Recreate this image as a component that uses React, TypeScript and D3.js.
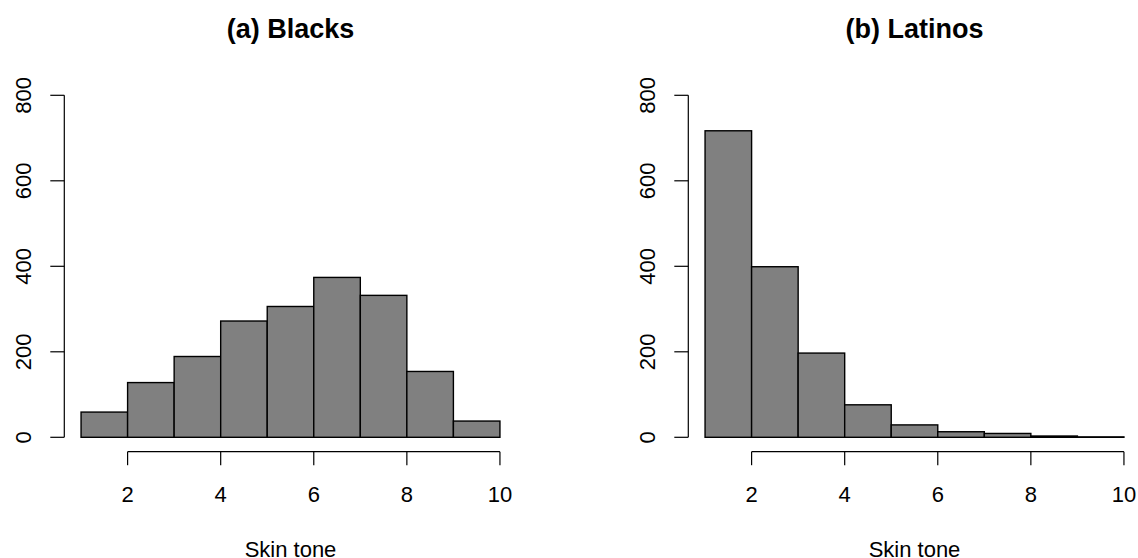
import React from "react";
import * as d3 from "d3";

const breaks = [1, 2, 3, 4, 5, 6, 7, 8, 9, 10];
const blacksCounts = [59, 128, 189, 272, 306, 374, 332, 154, 38];
const latinosCounts = [717, 399, 197, 76, 29, 13, 9, 3, 1];
const xTicks = [2, 4, 6, 8, 10];
const yTicks = [0, 200, 400, 600, 800];
const titles = ["(a) Blacks", "(b) Latinos"];
const xLabel = "Skin tone";

const W = 1138;
const H = 558;
const FONT = "'Liberation Sans', Arial, Helvetica, sans-serif";

function Panel({ counts, title, offset }: { counts: number[]; title: string; offset: number }) {
  const x = d3.scaleLinear().domain([0.64, 10.36]).range([64.3 + offset, 516.7 + offset]);
  const y = d3.scaleLinear().domain([0, 800]).range([437.3, 95.3]);
  const axisY = 451.7;
  const axisX = x(0.64);
  const cx = (x(0.64) + x(10.36)) / 2;
  return (
    <g>
      <text x={cx} y={37.5} textAnchor="middle" fontFamily={FONT} fontWeight="bold" fontSize={27}>
        {title}
      </text>
      {counts.map((c, i) => (
        <rect
          key={i}
          x={x(breaks[i])}
          y={y(c)}
          width={x(breaks[i + 1]) - x(breaks[i])}
          height={y(0) - y(c)}
          fill="#808080"
          stroke="#000"
          strokeWidth={1.4}
        />
      ))}
      {/* y axis */}
      <line x1={axisX} x2={axisX} y1={y(0)} y2={y(800)} stroke="#000" strokeWidth={1.2} />
      {yTicks.map((t) => (
        <g key={t}>
          <line x1={axisX - 14} x2={axisX} y1={y(t)} y2={y(t)} stroke="#000" strokeWidth={1.2} />
          <text
            transform={`translate(${axisX - 33.5},${y(t)}) rotate(-90)`}
            textAnchor="middle"
            fontFamily={FONT}
            fontSize={22}
          >
            {t}
          </text>
        </g>
      ))}
      {/* x axis */}
      <line x1={x(xTicks[0])} x2={x(xTicks[xTicks.length - 1])} y1={axisY} y2={axisY} stroke="#000" strokeWidth={1.2} />
      {xTicks.map((t) => (
        <g key={t}>
          <line x1={x(t)} x2={x(t)} y1={axisY} y2={axisY + 13.5} stroke="#000" strokeWidth={1.2} />
          <text x={x(t)} y={501.5} textAnchor="middle" fontFamily={FONT} fontSize={22}>
            {t}
          </text>
        </g>
      ))}
      <text x={cx} y={556.5} textAnchor="middle" fontFamily={FONT} fontSize={22}>
        {xLabel}
      </text>
    </g>
  );
}

export default function App() {
  return (
    <svg
      width={W}
      height={H}
      viewBox={`0 0 ${W} ${H}`}
      style={{ position: "absolute", left: 0, top: 0, display: "block", background: "#fff" }}
    >
      <rect x={0} y={0} width={W} height={H} fill="#fff" />
      <Panel counts={blacksCounts} title={titles[0]} offset={0} />
      <Panel counts={latinosCounts} title={titles[1]} offset={624} />
    </svg>
  );
}
